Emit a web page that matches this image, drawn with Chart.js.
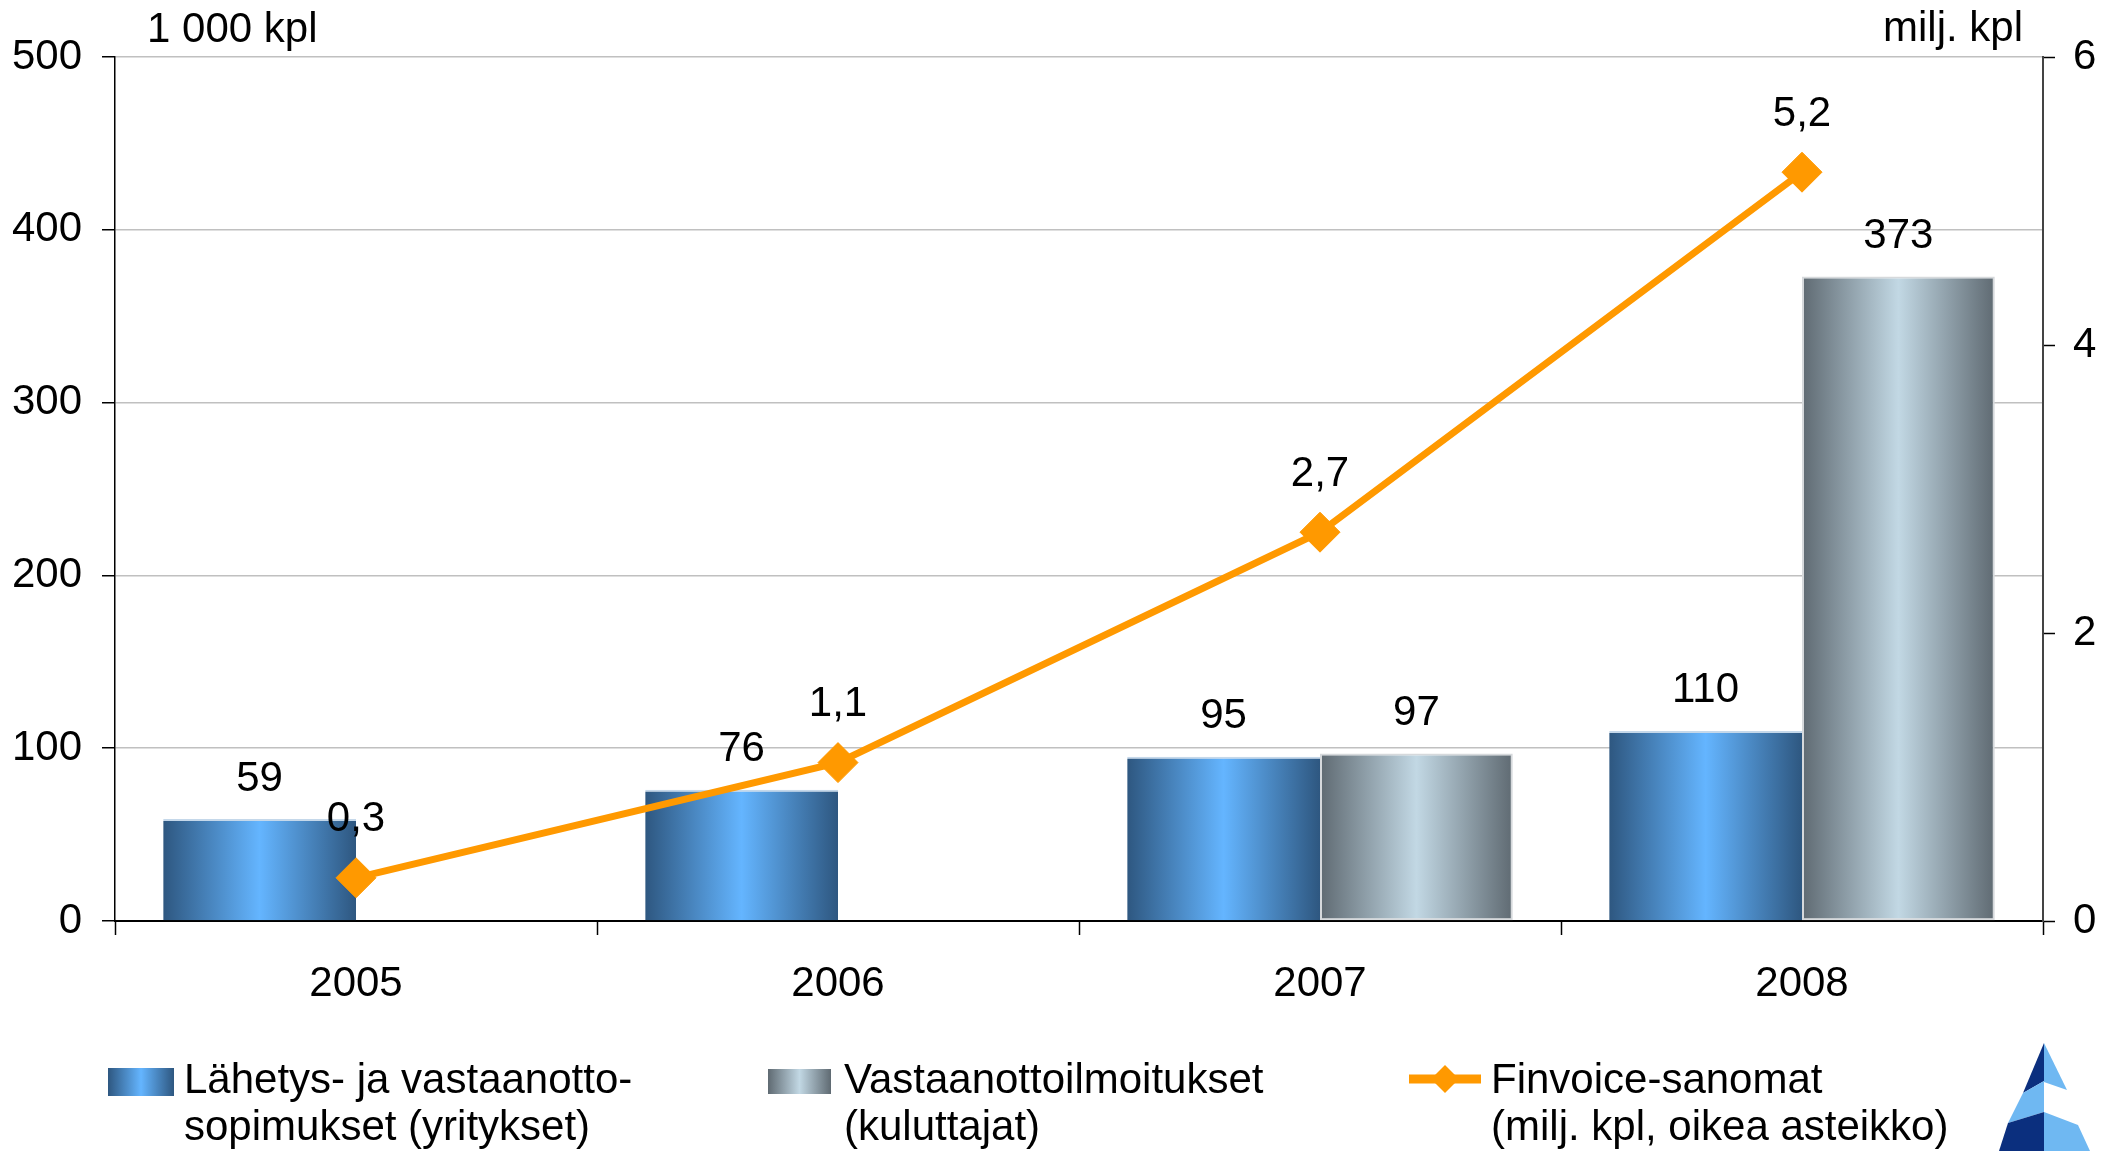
<!DOCTYPE html>
<html>
<head>
<meta charset="utf-8">
<script src="https://cdn.jsdelivr.net/npm/chart.js@4.4.1/dist/chart.umd.min.js"></script>
<style>
  html, body { margin:0; padding:0; background:#fff; overflow:hidden; }
  #wrap { position:absolute; left:0; top:0; width:2125px; height:1151px; }
  .txt { position:absolute; font-family:'Liberation Sans', Arial, sans-serif; font-size:42px; line-height:47px; color:#000; white-space:nowrap; }
  .sw { position:absolute; }
</style>
</head>
<body>
<div id="wrap"><canvas id="c"></canvas></div>

<div class="txt" style="left:147px;top:4px;">1 000 kpl</div>
<div class="txt" style="right:102px;top:3px;text-align:right;">milj. kpl</div>

<div class="sw" style="left:108px;top:1068px;width:66px;height:28px;background:linear-gradient(90deg,#2e5780 0%,#64b5ff 50%,#2e5780 100%);"></div>
<div class="txt" style="left:184px;top:1055px;">Lähetys- ja vastaanotto-<br>sopimukset (yritykset)</div>

<div class="sw" style="left:768px;top:1069px;width:63px;height:25px;background:linear-gradient(90deg,#5f6a72 0%,#c2d8e4 50%,#5f6a72 100%);"></div>
<div class="txt" style="left:844px;top:1055px;">Vastaanottoilmoitukset<br>(kuluttajat)</div>

<svg class="sw" style="left:1409px;top:1060px;" width="72" height="38" viewBox="0 0 72 38">
  <line x1="0" y1="19" x2="72" y2="19" stroke="#ff9900" stroke-width="9"/>
  <polygon points="36,5 50,19 36,33 22,19" fill="#ff9900"/>
</svg>
<div class="txt" style="left:1491px;top:1055px;">Finvoice-sanomat<br>(milj. kpl, oikea asteikko)</div>

<svg class="sw" style="left:1990px;top:1040px;" width="110" height="111" viewBox="1990 1040 110 111">
  <polygon points="2044,1043 2044,1081 2023,1093" fill="#0b2f7e"/>
  <polygon points="2044,1043 2067,1090 2044,1082" fill="#6fb8f2"/>
  <polygon points="2023,1093 2044,1081 2044,1112 2008,1123" fill="#6fb8f2"/>
  <polygon points="2008,1123 2044,1112 2044,1151 1999,1151" fill="#0b2f7e"/>
  <polygon points="2044,1112 2078,1125 2090,1151 2044,1151" fill="#6fb8f2"/>
</svg>

<script>
// ---- data ----
const categories = ['2005', '2006', '2007', '2008'];
const agreements = [59, 76, 95, 110];            // Lähetys- ja vastaanottosopimukset (1 000 kpl)
const notifications = [null, null, 97, 373];     // Vastaanottoilmoitukset (1 000 kpl)
const finvoice = [0.3, 1.1, 2.7, 5.2];           // Finvoice-sanomat (milj. kpl)

const FONT = "'Liberation Sans', Arial, sans-serif";
const FS = 42;

const gradientPlugin = {
  id: 'barGradients',
  beforeDatasetsDraw(chart) {
    const ctx = chart.ctx;
    chart.data.datasets.forEach((ds, i) => {
      if (!ds.gradientStops) return;
      const meta = chart.getDatasetMeta(i);
      meta.data.forEach(el => {
        if (el.skip || !el.options) return;
        const x = el.x, w = el.width;
        if (!isFinite(x) || !isFinite(w)) return;
        const g = ctx.createLinearGradient(x - w / 2, 0, x + w / 2, 0);
        ds.gradientStops.forEach(s => g.addColorStop(s[0], s[1]));
        el.options.backgroundColor = g;
      });
    });
  }
};

const labelPlugin = {
  id: 'valueLabels',
  afterDatasetsDraw(chart) {
    const ctx = chart.ctx;
    ctx.save();
    ctx.font = FS + 'px ' + FONT;
    ctx.fillStyle = '#000';
    ctx.textAlign = 'center';
    ctx.textBaseline = 'middle';
    chart.data.datasets.forEach((ds, i) => {
      const meta = chart.getDatasetMeta(i);
      meta.data.forEach((el, j) => {
        const v = ds.data[j];
        if (v === null || v === undefined) return;
        const off = meta.type === 'line' ? 58 : 40;
        ctx.fillText(String(v).replace('.', ','), el.x, el.y - off);
      });
    });
    ctx.restore();
  }
};

new Chart(document.getElementById('c'), {
  data: {
    labels: categories,
    datasets: [
      {
        type: 'line',
        label: 'Finvoice-sanomat (milj. kpl, oikea asteikko)',
        data: finvoice,
        yAxisID: 'y2',
        order: 0,
        borderColor: '#ff9900',
        borderWidth: 7,
        backgroundColor: '#ff9900',
        pointStyle: 'rectRot',
        pointRadius: 20,
        pointBorderWidth: 1,
        pointBackgroundColor: '#ff9900',
        pointBorderColor: '#ff9900',
        tension: 0,
        fill: false
      },
      {
        type: 'bar',
        label: 'Lähetys- ja vastaanottosopimukset (yritykset)',
        data: agreements,
        yAxisID: 'y',
        order: 1,
        gradientStops: [[0, '#2e5780'], [0.5, '#64b5ff'], [1, '#2e5780']],
        backgroundColor: () => '#4a8bd0',
        borderColor: '#c5d8ea',
        borderWidth: { top: 2, left: 0, right: 0, bottom: 0 },
        borderSkipped: false,
        categoryPercentage: 0.8,
        barPercentage: 1.0
      },
      {
        type: 'bar',
        label: 'Vastaanottoilmoitukset (kuluttajat)',
        data: notifications,
        yAxisID: 'y',
        order: 1,
        gradientStops: [[0, '#5f6a72'], [0.5, '#c2d8e4'], [1, '#5f6a72']],
        backgroundColor: () => '#9aa8b0',
        borderColor: '#d6d9dc',
        borderWidth: 2,
        borderSkipped: false,
        categoryPercentage: 0.8,
        barPercentage: 1.0
      }
    ]
  },
  options: {
    responsive: true,
    maintainAspectRatio: false,
    animation: false,
    events: [],
    layout: { padding: { left: 0, right: 0, top: 57, bottom: 130 } },
    plugins: {
      legend: { display: false },
      tooltip: { enabled: false },
      title: { display: false }
    },
    scales: {
      x: {
        type: 'category',
        offset: true,
        afterFit(s) { s.height = 100; },
        grid: {
          display: true,
          offset: true,
          drawOnChartArea: false,
          drawTicks: true,
          tickLength: 14,
          tickColor: '#000',
          tickWidth: 1.5
        },
        border: { display: true, color: '#000', width: 2 },
        ticks: { color: '#000', font: { family: FONT, size: FS }, padding: 24, maxRotation: 0 }
      },
      y: {
        position: 'left',
        min: 0, max: 500,
        afterFit(s) { s.width = 115; },
        grid: {
          color: '#c0c0c0',
          lineWidth: 1.5,
          tickColor: '#000',
          tickLength: 13,
          tickWidth: 1.5
        },
        border: { display: true, color: '#000', width: 1.5 },
        ticks: { stepSize: 100, color: '#000', font: { family: FONT, size: FS }, padding: 20 }
      },
      y2: {
        position: 'right',
        min: 0, max: 6,
        afterFit(s) { s.width = 82; },
        grid: {
          drawOnChartArea: false,
          tickColor: '#000',
          tickLength: 12,
          tickWidth: 1.5
        },
        border: { display: true, color: '#444', width: 2 },
        ticks: { stepSize: 2, color: '#000', font: { family: FONT, size: FS }, padding: 18 }
      }
    }
  },
  plugins: [gradientPlugin, labelPlugin]
});
</script>
</body>
</html>
